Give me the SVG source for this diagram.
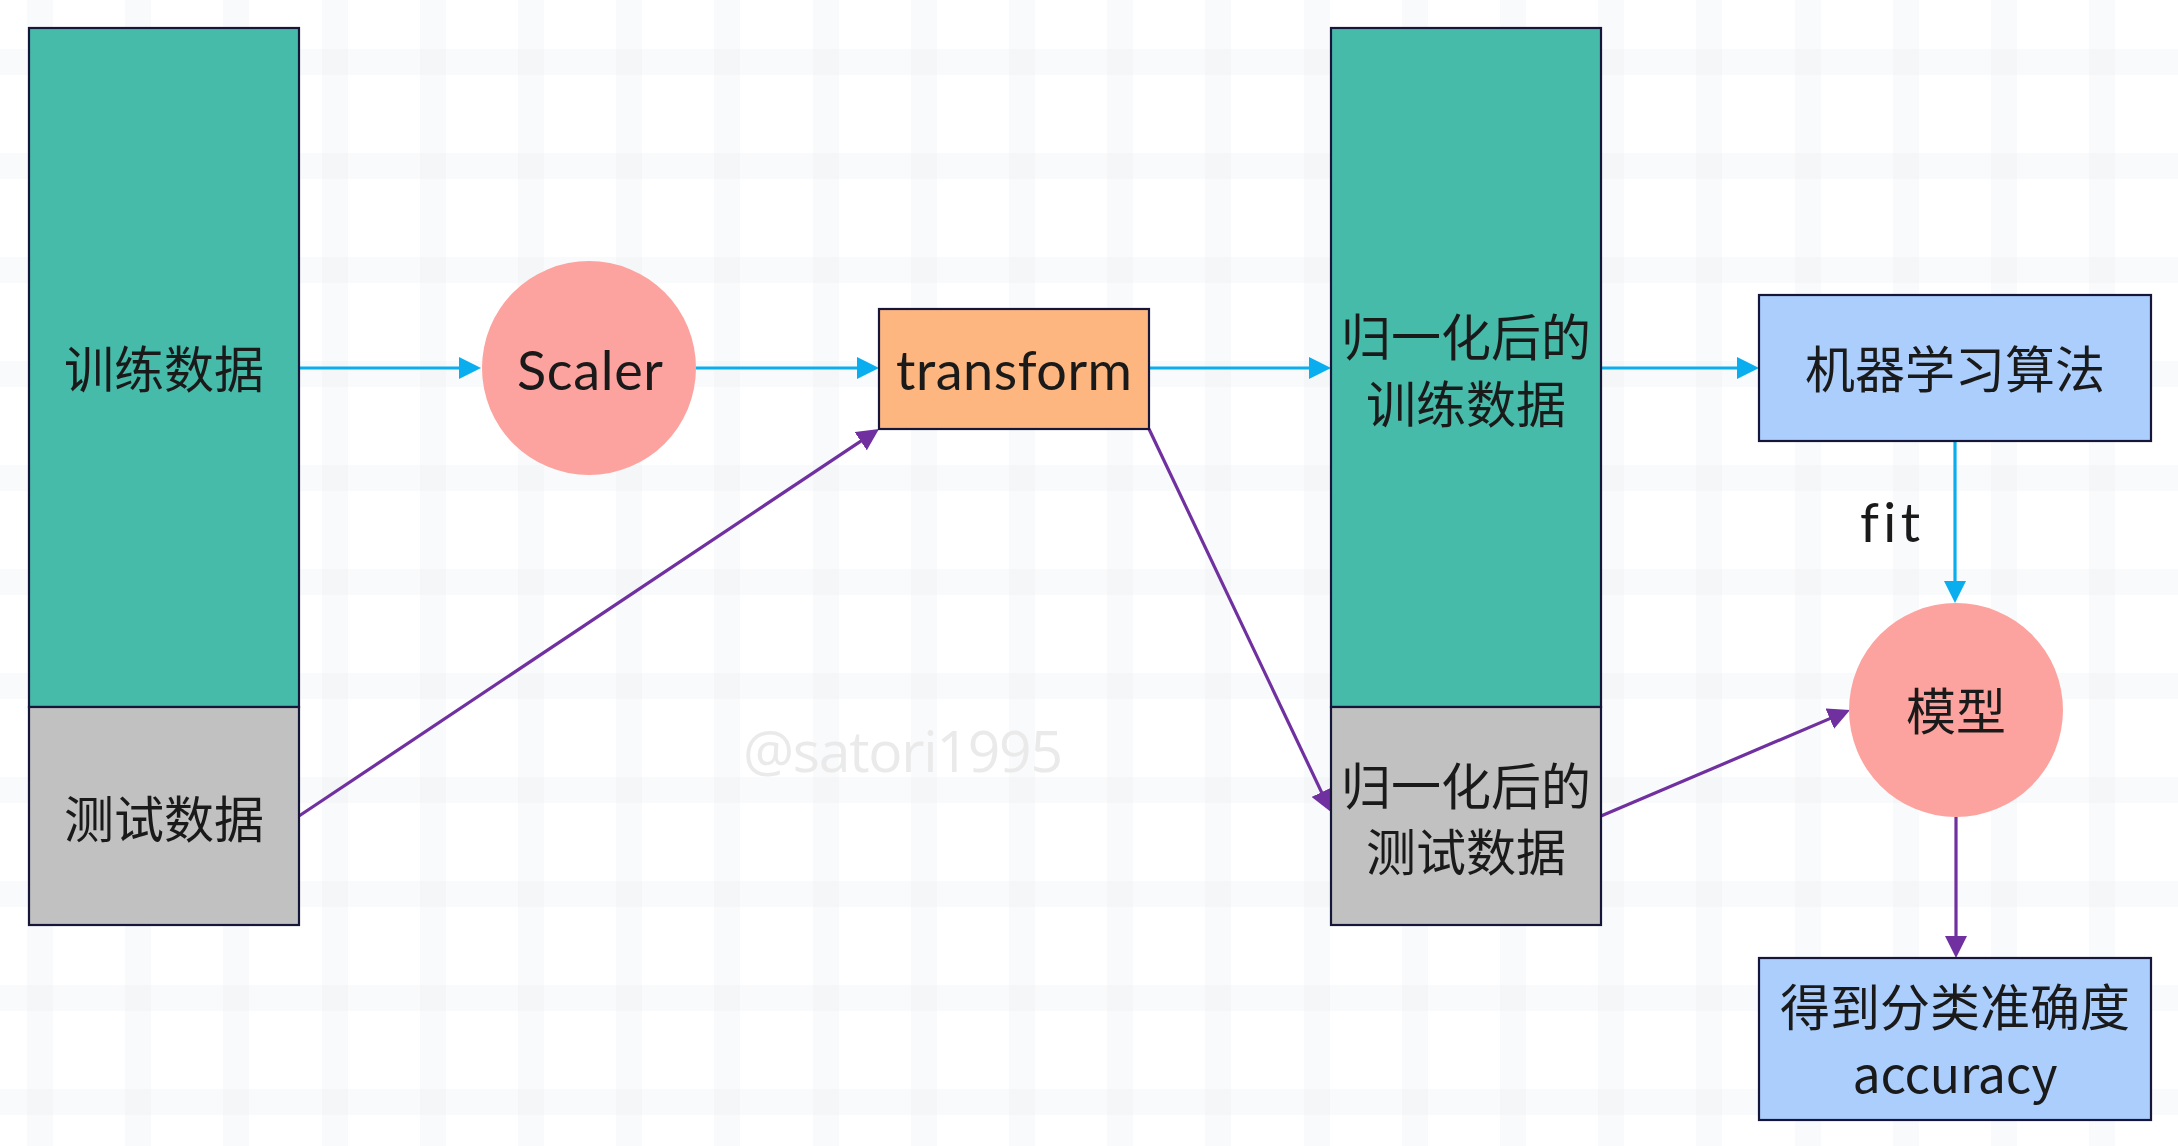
<svg xmlns="http://www.w3.org/2000/svg" width="2178" height="1146" viewBox="0 0 2178 1146">
<style>
.band{fill:#E1E8EB;opacity:0.2}
.box{stroke:#16163A;stroke-width:2.2}
.teal{fill:#47BBAA}
.gray{fill:#C1C1C1}
.cn{font-family:"Noto Sans CJK SC","Microsoft YaHei",sans-serif;font-size:50px;fill:#1A1A1A;text-anchor:middle}
.comic{font-family:"Lato","Open Sans",sans-serif;font-size:54px;fill:#1A1A1A;text-anchor:middle;font-variant-ligatures:none}
.cy{stroke:#0AAEEE;stroke-width:3.2;fill:none}
.pu{stroke:#7030A0;stroke-width:3.2;fill:none}
.wm{font-family:"Open Sans","Noto Sans",sans-serif;font-size:57px;fill:#EAEAEA}
</style>
<defs>
<marker id="ac" markerUnits="userSpaceOnUse" markerWidth="22" markerHeight="22" refX="16" refY="11" orient="auto"><path d="M0,0 L22,11 L0,22 z" fill="#0AAEEE"/></marker>
<marker id="ap" markerUnits="userSpaceOnUse" markerWidth="22" markerHeight="22" refX="16" refY="11" orient="auto"><path d="M0,0 L22,11 L0,22 z" fill="#7030A0"/></marker>
</defs>
<rect width="2178" height="1146" fill="#FFFFFF"/>
<g id="grid">
<rect class="band" x="0" y="49" width="2178" height="26"/>
<rect class="band" x="0" y="153" width="2178" height="26"/>
<rect class="band" x="0" y="257" width="2178" height="26"/>
<rect class="band" x="0" y="361" width="2178" height="26"/>
<rect class="band" x="0" y="465" width="2178" height="26"/>
<rect class="band" x="0" y="569" width="2178" height="26"/>
<rect class="band" x="0" y="673" width="2178" height="26"/>
<rect class="band" x="0" y="777" width="2178" height="26"/>
<rect class="band" x="0" y="881" width="2178" height="26"/>
<rect class="band" x="0" y="985" width="2178" height="26"/>
<rect class="band" x="0" y="1089" width="2178" height="26"/>
<rect class="band" x="27" y="0" width="26" height="1146"/>
<rect class="band" x="125" y="0" width="26" height="1146"/>
<rect class="band" x="223" y="0" width="26" height="1146"/>
<rect class="band" x="322" y="0" width="26" height="1146"/>
<rect class="band" x="420" y="0" width="26" height="1146"/>
<rect class="band" x="518" y="0" width="26" height="1146"/>
<rect class="band" x="616" y="0" width="26" height="1146"/>
<rect class="band" x="714" y="0" width="26" height="1146"/>
<rect class="band" x="813" y="0" width="26" height="1146"/>
<rect class="band" x="911" y="0" width="26" height="1146"/>
<rect class="band" x="1009" y="0" width="26" height="1146"/>
<rect class="band" x="1107" y="0" width="26" height="1146"/>
<rect class="band" x="1205" y="0" width="26" height="1146"/>
<rect class="band" x="1304" y="0" width="26" height="1146"/>
<rect class="band" x="1402" y="0" width="26" height="1146"/>
<rect class="band" x="1500" y="0" width="26" height="1146"/>
<rect class="band" x="1598" y="0" width="26" height="1146"/>
<rect class="band" x="1696" y="0" width="26" height="1146"/>
<rect class="band" x="1795" y="0" width="26" height="1146"/>
<rect class="band" x="1893" y="0" width="26" height="1146"/>
<rect class="band" x="1991" y="0" width="26" height="1146"/>
<rect class="band" x="2089" y="0" width="26" height="1146"/>
</g>
<text class="wm" x="743" y="772" textLength="320">@satori1995</text>
<g id="connectors">
<line class="cy" x1="299" y1="368" x2="475" y2="368" marker-end="url(#ac)"/>
<line class="cy" x1="696" y1="368" x2="873" y2="368" marker-end="url(#ac)"/>
<line class="pu" x1="299" y1="816" x2="874" y2="432.3" marker-end="url(#ap)"/>
<line class="cy" x1="1149" y1="368" x2="1325" y2="368" marker-end="url(#ac)"/>
<line class="pu" x1="1149" y1="429" x2="1328.4" y2="806.6" marker-end="url(#ap)"/>
<line class="cy" x1="1601" y1="368" x2="1753" y2="368" marker-end="url(#ac)"/>
<line class="cy" x1="1955" y1="441" x2="1955" y2="597" marker-end="url(#ac)"/>
<line class="pu" x1="1601" y1="816" x2="1844.5" y2="712.4" marker-end="url(#ap)"/>
<line class="pu" x1="1956" y1="817" x2="1956" y2="952" marker-end="url(#ap)"/>
<text class="comic" x="1890" y="542" textLength="60">fit</text>
</g>
<g id="train">
<rect class="box teal" x="29" y="28" width="270" height="679"/>
<text class="cn" x="164" y="388">训练数据</text>
</g>
<g id="test">
<rect class="box gray" x="29" y="707" width="270" height="218"/>
<text class="cn" x="164" y="838">测试数据</text>
</g>
<g id="scaler">
<circle cx="589" cy="368" r="107" fill="#FDA39F"/>
<text class="comic" x="590" y="390" textLength="146">Scaler</text>
</g>
<g id="transform">
<rect class="box" x="879" y="309" width="270" height="120" fill="#FDB67F"/>
<text class="comic" x="1014" y="390" textLength="236">transform</text>
</g>
<g id="train-norm">
<rect class="box teal" x="1331" y="28" width="270" height="679"/>
<text class="cn" x="1466" y="356">归一化后的</text>
<text class="cn" x="1466" y="423">训练数据</text>
</g>
<g id="test-norm">
<rect class="box gray" x="1331" y="707" width="270" height="218"/>
<text class="cn" x="1466" y="805">归一化后的</text>
<text class="cn" x="1466" y="871">测试数据</text>
</g>
<g id="algo">
<rect class="box" x="1759" y="295" width="392" height="146" fill="#ABCEFD"/>
<text class="cn" x="1955" y="388">机器学习算法</text>
</g>
<g id="model">
<circle cx="1956" cy="710" r="107" fill="#FDA39F"/>
<text class="cn" x="1956" y="730">模型</text>
</g>
<g id="accuracy">
<rect class="box" x="1759" y="958" width="392" height="162" fill="#ABCEFD"/>
<text class="cn" x="1955" y="1026">得到分类准确度</text>
<text class="cn" x="1955" y="1093" textLength="205">accuracy</text>
</g>
</svg>
